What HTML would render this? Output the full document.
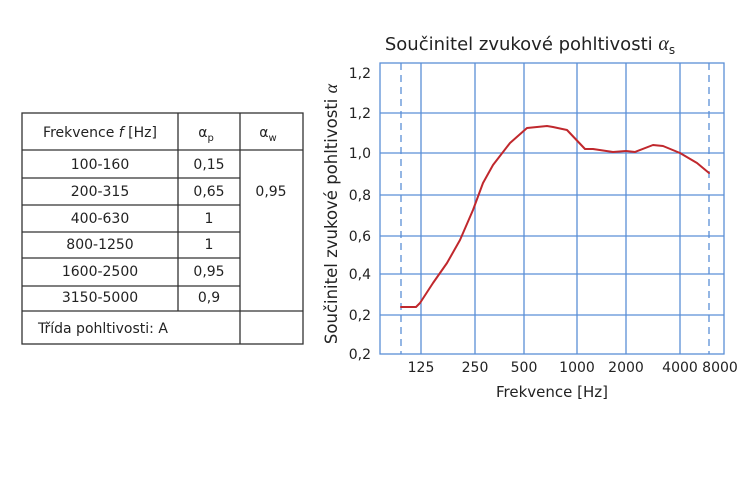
<!DOCTYPE html>
<html><head><meta charset="utf-8"><style>
body{margin:0;background:#fff;width:750px;height:500px;overflow:hidden;font-family:"DejaVu Sans","Liberation Sans",sans-serif;}
svg{position:absolute;left:0;top:0}
</style></head><body>
<svg width="750" height="500" viewBox="0 0 750 500" font-family="DejaVu Sans, Liberation Sans, sans-serif">
<g stroke="#333" stroke-width="1.3" fill="none">
<rect x="22" y="113" width="281" height="231"/>
<line x1="178" y1="113" x2="178" y2="311"/>
<line x1="240" y1="113" x2="240" y2="344"/>
<line x1="22" y1="150" x2="303" y2="150"/>
<line x1="22" y1="178" x2="240" y2="178"/>
<line x1="22" y1="205" x2="240" y2="205"/>
<line x1="22" y1="232" x2="240" y2="232"/>
<line x1="22" y1="258" x2="240" y2="258"/>
<line x1="22" y1="286" x2="240" y2="286"/>
<line x1="22" y1="311" x2="303" y2="311"/>
</g>
<g fill="#222" font-size="14" text-anchor="middle">
<text x="100" y="137">Frekvence <tspan font-style="italic">f</tspan> [Hz]</text>
<text x="206" y="137">α<tspan font-size="10" dy="4">p</tspan></text>
<text x="268" y="137">α<tspan font-size="10" dy="4">w</tspan></text>
<text x="100" y="169">100-160</text><text x="209" y="169">0,15</text>
<text x="100" y="196">200-315</text><text x="209" y="196">0,65</text>
<text x="271" y="196">0,95</text>
<text x="100" y="223">400-630</text><text x="209" y="223">1</text>
<text x="100" y="249">800-1250</text><text x="209" y="249">1</text>
<text x="100" y="276">1600-2500</text><text x="209" y="276">0,95</text>
<text x="100" y="302">3150-5000</text><text x="209" y="302">0,9</text>
<text x="38" y="333" text-anchor="start">Třída pohltivosti: A</text>
</g>
<text x="530" y="50" font-size="18" fill="#222" text-anchor="middle">Součinitel zvukové pohltivosti <tspan font-style="italic" font-family="Liberation Serif, serif" font-size="20">α</tspan><tspan font-size="12" dy="4">s</tspan></text>
<g stroke="#5b8fd6" stroke-width="1.3">
<rect x="380" y="63" width="344" height="291" fill="none"/>
<line x1="380" y1="113" x2="724" y2="113"/>
<line x1="380" y1="153" x2="724" y2="153"/>
<line x1="380" y1="195" x2="724" y2="195"/>
<line x1="380" y1="236" x2="724" y2="236"/>
<line x1="380" y1="274" x2="724" y2="274"/>
<line x1="380" y1="315" x2="724" y2="315"/>
<line x1="421" y1="63" x2="421" y2="354"/>
<line x1="475" y1="63" x2="475" y2="354"/>
<line x1="524" y1="63" x2="524" y2="354"/>
<line x1="577" y1="63" x2="577" y2="354"/>
<line x1="626" y1="63" x2="626" y2="354"/>
<line x1="680" y1="63" x2="680" y2="354"/>
<line x1="401" y1="63" x2="401" y2="354" stroke-dasharray="7,5"/>
<line x1="709" y1="63" x2="709" y2="354" stroke-dasharray="7,5"/>
</g>
<polyline fill="none" stroke="#c0282d" stroke-width="2" stroke-linejoin="round" stroke-linecap="round" points="401,307 416,307 420,303 433,283 447,263 460,240 473,210 483,183 493,165 510,143 527,128 547,126 553,127 567,130 585,149 593,149 613,152 626,151 635,152 653,145 663,146 680,153 697,163 709,173"/>
<g fill="#222" font-size="14" text-anchor="end">
<text x="371" y="78">1,2</text><text x="371" y="118">1,2</text>
<text x="371" y="158">1,0</text><text x="371" y="200">0,8</text>
<text x="371" y="241">0,6</text><text x="371" y="279">0,4</text>
<text x="371" y="320">0,2</text><text x="371" y="359">0,2</text>
</g>
<g fill="#222" font-size="14" text-anchor="middle">
<text x="421" y="372">125</text><text x="475" y="372">250</text>
<text x="524" y="372">500</text><text x="577" y="372">1000</text>
<text x="626" y="372">2000</text><text x="680" y="372">4000</text>
<text x="720" y="372">8000</text>
<text x="552" y="397" font-size="15">Frekvence [Hz]</text>
</g>
<text transform="translate(337,214) rotate(-90)" font-size="16.5" fill="#222" text-anchor="middle">Součinitel zvukové pohltivosti <tspan font-style="italic" font-family="Liberation Serif, serif" font-size="18">α</tspan></text>
</svg>
</body></html>
